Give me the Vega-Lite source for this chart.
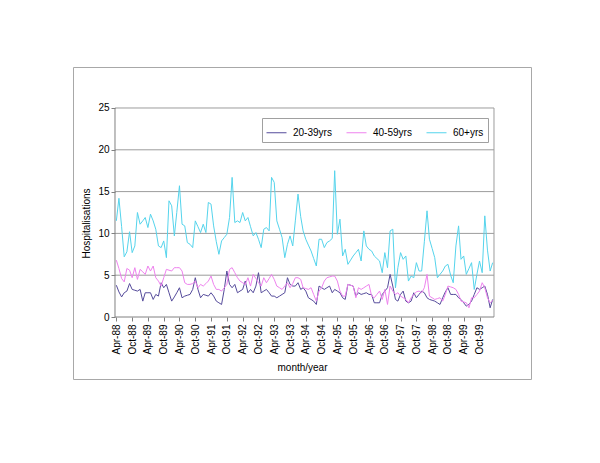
{
  "$schema": "https://vega.github.io/schema/vega-lite/v6.json",
  "autosize": {"type": "none"},
  "width": 458,
  "height": 312,
  "padding": {"left": 73, "top": 67, "right": 69, "bottom": 84},
  "background": "white",
  "config": {
    "view": {"stroke": "#a8a8a8", "strokeWidth": 1},
    "font": "Liberation Sans",
    "axis": {"labelFont": "Liberation Sans", "titleFont": "Liberation Sans", "labelColor": "#000", "titleColor": "#000", "titleFontWeight": "normal", "labelFontSize": 10, "titleFontSize": 10},
    "axisX": {"labelOverlap": false, "labelSeparation": 0},
    "legend": {"labelFont": "Liberation Sans", "labelFontSize": 10, "labelColor": "#000"}
  },
  "layer": [
    {
      "data": {"values": [{"g": 5}, {"g": 10}, {"g": 15}, {"g": 20}, {"g": 25}]},
      "mark": {"type": "rule", "color": "#9c9c9c", "strokeWidth": 1},
      "encoding": {
        "x": {"datum": {"year": 1988, "month": 3, "date": 16, "hours": 12}, "type": "temporal"},
        "x2": {"datum": {"year": 2000, "month": 3, "date": 16, "hours": 12}},
        "y": {"field": "g", "type": "quantitative"}
      }
    },
    {
      "data": {"values": [{}]},
      "mark": {"type": "rule", "color": "#9c9c9c", "strokeWidth": 1},
      "encoding": {
        "x": {"datum": {"year": 2000, "month": 3, "date": 16, "hours": 12}, "type": "temporal"},
        "y": {"datum": 0, "type": "quantitative"},
        "y2": {"datum": 25}
      }
    },
    {
      "data": {"values": [{}]},
      "mark": {"type": "rule", "color": "#808080", "strokeWidth": 1},
      "encoding": {
        "x": {"datum": {"year": 1988, "month": 3, "date": 16, "hours": 12}, "type": "temporal"},
        "y": {"datum": 0, "type": "quantitative"},
        "y2": {"datum": 25}
      }
    },
    {
      "data": {"values": [{}]},
      "mark": {"type": "rule", "color": "#808080", "strokeWidth": 1},
      "encoding": {
        "x": {"datum": {"year": 1988, "month": 3, "date": 16, "hours": 12}, "type": "temporal"},
        "x2": {"datum": {"year": 2000, "month": 3, "date": 16, "hours": 12}},
        "y": {"datum": 0, "type": "quantitative"}
      }
    },
    {
      "data": {
        "values": [
          {"month": "1988-04", "20-39yrs": 3.8, "40-59yrs": 6.8, "60+yrs": 11.5},
          {"month": "1988-05", "20-39yrs": 3.0, "40-59yrs": 5.8, "60+yrs": 14.2},
          {"month": "1988-06", "20-39yrs": 2.4, "40-59yrs": 4.6, "60+yrs": 10.8},
          {"month": "1988-07", "20-39yrs": 2.9, "40-59yrs": 4.2, "60+yrs": 7.2},
          {"month": "1988-08", "20-39yrs": 3.1, "40-59yrs": 5.8, "60+yrs": 7.8},
          {"month": "1988-09", "20-39yrs": 4.0, "40-59yrs": 5.6, "60+yrs": 10.2},
          {"month": "1988-10", "20-39yrs": 3.3, "40-59yrs": 4.7, "60+yrs": 7.7},
          {"month": "1988-11", "20-39yrs": 3.2, "40-59yrs": 5.9, "60+yrs": 8.5},
          {"month": "1988-12", "20-39yrs": 3.1, "40-59yrs": 4.5, "60+yrs": 12.5},
          {"month": "1989-01", "20-39yrs": 3.3, "40-59yrs": 5.7, "60+yrs": 11.1},
          {"month": "1989-02", "20-39yrs": 1.9, "40-59yrs": 5.4, "60+yrs": 11.5},
          {"month": "1989-03", "20-39yrs": 2.9, "40-59yrs": 5.1, "60+yrs": 11.9},
          {"month": "1989-04", "20-39yrs": 2.9, "40-59yrs": 6.1, "60+yrs": 10.7},
          {"month": "1989-05", "20-39yrs": 2.9, "40-59yrs": 5.5, "60+yrs": 12.3},
          {"month": "1989-06", "20-39yrs": 2.1, "40-59yrs": 6.1, "60+yrs": 11.5},
          {"month": "1989-07", "20-39yrs": 2.7, "40-59yrs": 4.7, "60+yrs": 10.5},
          {"month": "1989-08", "20-39yrs": 2.5, "40-59yrs": 4.3, "60+yrs": 8.5},
          {"month": "1989-09", "20-39yrs": 4.1, "40-59yrs": 3.7, "60+yrs": 8.3},
          {"month": "1989-10", "20-39yrs": 3.5, "40-59yrs": 4.7, "60+yrs": 9.1},
          {"month": "1989-11", "20-39yrs": 3.9, "40-59yrs": 5.7, "60+yrs": 7.1},
          {"month": "1989-12", "20-39yrs": 2.9, "40-59yrs": 5.6, "60+yrs": 13.9},
          {"month": "1990-01", "20-39yrs": 1.9, "40-59yrs": 5.5, "60+yrs": 13.3},
          {"month": "1990-02", "20-39yrs": 2.4, "40-59yrs": 5.9, "60+yrs": 9.7},
          {"month": "1990-03", "20-39yrs": 2.9, "40-59yrs": 5.9, "60+yrs": 12.5},
          {"month": "1990-04", "20-39yrs": 3.5, "40-59yrs": 5.9, "60+yrs": 15.7},
          {"month": "1990-05", "20-39yrs": 2.3, "40-59yrs": 5.5, "60+yrs": 11.1},
          {"month": "1990-06", "20-39yrs": 2.5, "40-59yrs": 4.1, "60+yrs": 10.9},
          {"month": "1990-07", "20-39yrs": 2.6, "40-59yrs": 3.9, "60+yrs": 8.9},
          {"month": "1990-08", "20-39yrs": 2.7, "40-59yrs": 3.9, "60+yrs": 8.7},
          {"month": "1990-09", "20-39yrs": 3.3, "40-59yrs": 4.0, "60+yrs": 8.3},
          {"month": "1990-10", "20-39yrs": 4.7, "40-59yrs": 4.3, "60+yrs": 11.5},
          {"month": "1990-11", "20-39yrs": 3.3, "40-59yrs": 3.5, "60+yrs": 10.8},
          {"month": "1990-12", "20-39yrs": 2.3, "40-59yrs": 3.9, "60+yrs": 10.1},
          {"month": "1991-01", "20-39yrs": 2.7, "40-59yrs": 3.7, "60+yrs": 11.1},
          {"month": "1991-02", "20-39yrs": 2.6, "40-59yrs": 4.0, "60+yrs": 10.1},
          {"month": "1991-03", "20-39yrs": 2.5, "40-59yrs": 4.3, "60+yrs": 13.7},
          {"month": "1991-04", "20-39yrs": 2.9, "40-59yrs": 4.9, "60+yrs": 13.5},
          {"month": "1991-05", "20-39yrs": 2.5, "40-59yrs": 3.9, "60+yrs": 10.9},
          {"month": "1991-06", "20-39yrs": 1.9, "40-59yrs": 3.3, "60+yrs": 9.0},
          {"month": "1991-07", "20-39yrs": 1.7, "40-59yrs": 3.3, "60+yrs": 7.5},
          {"month": "1991-08", "20-39yrs": 1.5, "40-59yrs": 3.1, "60+yrs": 9.1},
          {"month": "1991-09", "20-39yrs": 3.3, "40-59yrs": 3.5, "60+yrs": 9.5},
          {"month": "1991-10", "20-39yrs": 5.5, "40-59yrs": 3.9, "60+yrs": 9.9},
          {"month": "1991-11", "20-39yrs": 3.9, "40-59yrs": 5.7, "60+yrs": 11.9},
          {"month": "1991-12", "20-39yrs": 3.5, "40-59yrs": 5.9, "60+yrs": 16.7},
          {"month": "1992-01", "20-39yrs": 3.9, "40-59yrs": 5.3, "60+yrs": 11.3},
          {"month": "1992-02", "20-39yrs": 2.9, "40-59yrs": 4.7, "60+yrs": 11.5},
          {"month": "1992-03", "20-39yrs": 3.1, "40-59yrs": 4.3, "60+yrs": 11.3},
          {"month": "1992-04", "20-39yrs": 3.3, "40-59yrs": 4.1, "60+yrs": 12.5},
          {"month": "1992-05", "20-39yrs": 4.3, "40-59yrs": 3.9, "60+yrs": 11.5},
          {"month": "1992-06", "20-39yrs": 2.9, "40-59yrs": 4.7, "60+yrs": 11.9},
          {"month": "1992-07", "20-39yrs": 3.3, "40-59yrs": 3.7, "60+yrs": 10.8},
          {"month": "1992-08", "20-39yrs": 2.9, "40-59yrs": 5.1, "60+yrs": 9.7},
          {"month": "1992-09", "20-39yrs": 3.7, "40-59yrs": 4.6, "60+yrs": 10.1},
          {"month": "1992-10", "20-39yrs": 5.3, "40-59yrs": 4.1, "60+yrs": 9.3},
          {"month": "1992-11", "20-39yrs": 2.9, "40-59yrs": 3.7, "60+yrs": 8.3},
          {"month": "1992-12", "20-39yrs": 3.1, "40-59yrs": 4.7, "60+yrs": 10.5},
          {"month": "1993-01", "20-39yrs": 3.3, "40-59yrs": 4.1, "60+yrs": 10.7},
          {"month": "1993-02", "20-39yrs": 2.9, "40-59yrs": 4.6, "60+yrs": 10.3},
          {"month": "1993-03", "20-39yrs": 2.5, "40-59yrs": 5.1, "60+yrs": 16.7},
          {"month": "1993-04", "20-39yrs": 2.5, "40-59yrs": 4.5, "60+yrs": 16.1},
          {"month": "1993-05", "20-39yrs": 2.3, "40-59yrs": 3.7, "60+yrs": 11.5},
          {"month": "1993-06", "20-39yrs": 2.5, "40-59yrs": 3.5, "60+yrs": 10.5},
          {"month": "1993-07", "20-39yrs": 2.7, "40-59yrs": 3.3, "60+yrs": 9.5},
          {"month": "1993-08", "20-39yrs": 2.9, "40-59yrs": 3.7, "60+yrs": 7.1},
          {"month": "1993-09", "20-39yrs": 4.7, "40-59yrs": 4.1, "60+yrs": 8.7},
          {"month": "1993-10", "20-39yrs": 3.9, "40-59yrs": 3.5, "60+yrs": 9.7},
          {"month": "1993-11", "20-39yrs": 3.7, "40-59yrs": 4.0, "60+yrs": 8.5},
          {"month": "1993-12", "20-39yrs": 3.7, "40-59yrs": 4.7, "60+yrs": 11.5},
          {"month": "1994-01", "20-39yrs": 4.1, "40-59yrs": 4.7, "60+yrs": 14.7},
          {"month": "1994-02", "20-39yrs": 3.3, "40-59yrs": 4.5, "60+yrs": 12.0},
          {"month": "1994-03", "20-39yrs": 3.5, "40-59yrs": 3.5, "60+yrs": 10.3},
          {"month": "1994-04", "20-39yrs": 3.1, "40-59yrs": 3.4, "60+yrs": 9.3},
          {"month": "1994-05", "20-39yrs": 2.3, "40-59yrs": 3.3, "60+yrs": 8.6},
          {"month": "1994-06", "20-39yrs": 2.1, "40-59yrs": 3.5, "60+yrs": 7.9},
          {"month": "1994-07", "20-39yrs": 1.9, "40-59yrs": 2.7, "60+yrs": 7.0},
          {"month": "1994-08", "20-39yrs": 1.5, "40-59yrs": 1.9, "60+yrs": 6.1},
          {"month": "1994-09", "20-39yrs": 3.7, "40-59yrs": 3.1, "60+yrs": 9.3},
          {"month": "1994-10", "20-39yrs": 3.5, "40-59yrs": 3.5, "60+yrs": 9.3},
          {"month": "1994-11", "20-39yrs": 3.3, "40-59yrs": 4.3, "60+yrs": 8.3},
          {"month": "1994-12", "20-39yrs": 3.5, "40-59yrs": 4.7, "60+yrs": 8.9},
          {"month": "1995-01", "20-39yrs": 3.7, "40-59yrs": 4.8, "60+yrs": 9.1},
          {"month": "1995-02", "20-39yrs": 2.9, "40-59yrs": 4.9, "60+yrs": 9.4},
          {"month": "1995-03", "20-39yrs": 3.3, "40-59yrs": 4.9, "60+yrs": 17.5},
          {"month": "1995-04", "20-39yrs": 3.1, "40-59yrs": 4.3, "60+yrs": 9.9},
          {"month": "1995-05", "20-39yrs": 2.9, "40-59yrs": 3.1, "60+yrs": 11.7},
          {"month": "1995-06", "20-39yrs": 2.3, "40-59yrs": 2.5, "60+yrs": 7.3},
          {"month": "1995-07", "20-39yrs": 2.1, "40-59yrs": 2.5, "60+yrs": 8.1},
          {"month": "1995-08", "20-39yrs": 3.9, "40-59yrs": 3.9, "60+yrs": 6.3},
          {"month": "1995-09", "20-39yrs": 3.8, "40-59yrs": 3.8, "60+yrs": 6.8},
          {"month": "1995-10", "20-39yrs": 3.7, "40-59yrs": 3.7, "60+yrs": 7.3},
          {"month": "1995-11", "20-39yrs": 2.5, "40-59yrs": 2.3, "60+yrs": 7.7},
          {"month": "1995-12", "20-39yrs": 2.9, "40-59yrs": 3.5, "60+yrs": 8.1},
          {"month": "1996-01", "20-39yrs": 2.7, "40-59yrs": 3.3, "60+yrs": 6.7},
          {"month": "1996-02", "20-39yrs": 2.8, "40-59yrs": 3.5, "60+yrs": 10.3},
          {"month": "1996-03", "20-39yrs": 2.9, "40-59yrs": 3.7, "60+yrs": 8.5},
          {"month": "1996-04", "20-39yrs": 2.7, "40-59yrs": 3.9, "60+yrs": 8.1},
          {"month": "1996-05", "20-39yrs": 2.7, "40-59yrs": 2.5, "60+yrs": 7.9},
          {"month": "1996-06", "20-39yrs": 1.7, "40-59yrs": 2.3, "60+yrs": 7.3},
          {"month": "1996-07", "20-39yrs": 1.7, "40-59yrs": 2.7, "60+yrs": 7.0},
          {"month": "1996-08", "20-39yrs": 1.7, "40-59yrs": 3.1, "60+yrs": 6.7},
          {"month": "1996-09", "20-39yrs": 2.7, "40-59yrs": 2.1, "60+yrs": 5.3},
          {"month": "1996-10", "20-39yrs": 3.1, "40-59yrs": 3.3, "60+yrs": 7.7},
          {"month": "1996-11", "20-39yrs": 3.5, "40-59yrs": 1.5, "60+yrs": 5.9},
          {"month": "1996-12", "20-39yrs": 5.1, "40-59yrs": 3.7, "60+yrs": 10.3},
          {"month": "1997-01", "20-39yrs": 3.7, "40-59yrs": 3.1, "60+yrs": 10.5},
          {"month": "1997-02", "20-39yrs": 2.1, "40-59yrs": 2.7, "60+yrs": 3.5},
          {"month": "1997-03", "20-39yrs": 1.9, "40-59yrs": 2.9, "60+yrs": 5.9},
          {"month": "1997-04", "20-39yrs": 2.7, "40-59yrs": 2.5, "60+yrs": 7.7},
          {"month": "1997-05", "20-39yrs": 3.1, "40-59yrs": 2.3, "60+yrs": 6.9},
          {"month": "1997-06", "20-39yrs": 1.9, "40-59yrs": 2.1, "60+yrs": 7.3},
          {"month": "1997-07", "20-39yrs": 1.7, "40-59yrs": 1.7, "60+yrs": 4.3},
          {"month": "1997-08", "20-39yrs": 1.9, "40-59yrs": 2.3, "60+yrs": 4.9},
          {"month": "1997-09", "20-39yrs": 2.9, "40-59yrs": 2.7, "60+yrs": 4.7},
          {"month": "1997-10", "20-39yrs": 2.3, "40-59yrs": 3.0, "60+yrs": 6.5},
          {"month": "1997-11", "20-39yrs": 2.7, "40-59yrs": 3.1, "60+yrs": 5.5},
          {"month": "1997-12", "20-39yrs": 3.1, "40-59yrs": 2.9, "60+yrs": 5.5},
          {"month": "1998-01", "20-39yrs": 2.9, "40-59yrs": 3.5, "60+yrs": 9.0},
          {"month": "1998-02", "20-39yrs": 2.3, "40-59yrs": 5.1, "60+yrs": 12.7},
          {"month": "1998-03", "20-39yrs": 2.1, "40-59yrs": 2.5, "60+yrs": 9.3},
          {"month": "1998-04", "20-39yrs": 2.0, "40-59yrs": 2.3, "60+yrs": 8.2},
          {"month": "1998-05", "20-39yrs": 1.9, "40-59yrs": 2.1, "60+yrs": 7.1},
          {"month": "1998-06", "20-39yrs": 1.7, "40-59yrs": 2.2, "60+yrs": 4.7},
          {"month": "1998-07", "20-39yrs": 1.5, "40-59yrs": 2.3, "60+yrs": 5.1},
          {"month": "1998-08", "20-39yrs": 2.3, "40-59yrs": 1.9, "60+yrs": 5.5},
          {"month": "1998-09", "20-39yrs": 3.0, "40-59yrs": 2.7, "60+yrs": 6.1},
          {"month": "1998-10", "20-39yrs": 3.5, "40-59yrs": 3.7, "60+yrs": 6.3},
          {"month": "1998-11", "20-39yrs": 2.7, "40-59yrs": 3.6, "60+yrs": 5.0},
          {"month": "1998-12", "20-39yrs": 2.7, "40-59yrs": 3.5, "60+yrs": 4.1},
          {"month": "1999-01", "20-39yrs": 2.7, "40-59yrs": 3.3, "60+yrs": 8.5},
          {"month": "1999-02", "20-39yrs": 2.3, "40-59yrs": 2.7, "60+yrs": 10.9},
          {"month": "1999-03", "20-39yrs": 2.1, "40-59yrs": 1.9, "60+yrs": 6.9},
          {"month": "1999-04", "20-39yrs": 1.7, "40-59yrs": 1.8, "60+yrs": 7.3},
          {"month": "1999-05", "20-39yrs": 1.3, "40-59yrs": 1.7, "60+yrs": 5.1},
          {"month": "1999-06", "20-39yrs": 1.5, "40-59yrs": 1.1, "60+yrs": 5.8},
          {"month": "1999-07", "20-39yrs": 1.9, "40-59yrs": 2.3, "60+yrs": 6.5},
          {"month": "1999-08", "20-39yrs": 2.7, "40-59yrs": 2.3, "60+yrs": 3.3},
          {"month": "1999-09", "20-39yrs": 3.5, "40-59yrs": 2.7, "60+yrs": 5.1},
          {"month": "1999-10", "20-39yrs": 3.3, "40-59yrs": 3.1, "60+yrs": 6.7},
          {"month": "1999-11", "20-39yrs": 3.5, "40-59yrs": 4.1, "60+yrs": 5.3},
          {"month": "1999-12", "20-39yrs": 3.7, "40-59yrs": 3.5, "60+yrs": 12.1},
          {"month": "2000-01", "20-39yrs": 2.7, "40-59yrs": 2.3, "60+yrs": 8.0},
          {"month": "2000-02", "20-39yrs": 1.1, "40-59yrs": 1.7, "60+yrs": 5.5},
          {"month": "2000-03", "20-39yrs": 2.1, "40-59yrs": 2.0, "60+yrs": 6.5}
        ],
        "format": {"parse": {"month": "date:'%Y-%m'"}}
      },
      "transform": [
        {"fold": ["20-39yrs", "40-59yrs", "60+yrs"], "as": ["group", "value"]}
      ],
      "mark": {"type": "line", "strokeWidth": 1},
      "encoding": {
        "x": {
          "field": "month", "type": "temporal",
          "scale": {"domain": [{"year": 1986, "month": 11, "date": 16, "hours": 20}, {"year": 2001, "month": 5, "date": 18, "hours": 10}], "nice": false},
          "axis": {
            "orient": "bottom", "offset": -62, "domain": false, "grid": false,
            "format": "%b-%y", "labelAngle": -90, "labelPadding": 3,
            "tickSize": 4, "tickColor": "#808080", "labelFontSize": 10,
            "title": "month/year", "titlePadding": 8, "labelOverlap": false, "tickCount": 40,
            "values": [
              {"year": 1988, "month": 4, "date": 1}, {"year": 1988, "month": 10, "date": 1},
              {"year": 1989, "month": 4, "date": 1}, {"year": 1989, "month": 10, "date": 1},
              {"year": 1990, "month": 4, "date": 1}, {"year": 1990, "month": 10, "date": 1},
              {"year": 1991, "month": 4, "date": 1}, {"year": 1991, "month": 10, "date": 1},
              {"year": 1992, "month": 4, "date": 1}, {"year": 1992, "month": 10, "date": 1},
              {"year": 1993, "month": 4, "date": 1}, {"year": 1993, "month": 10, "date": 1},
              {"year": 1994, "month": 4, "date": 1}, {"year": 1994, "month": 10, "date": 1},
              {"year": 1995, "month": 4, "date": 1}, {"year": 1995, "month": 10, "date": 1},
              {"year": 1996, "month": 4, "date": 1}, {"year": 1996, "month": 10, "date": 1},
              {"year": 1997, "month": 4, "date": 1}, {"year": 1997, "month": 10, "date": 1},
              {"year": 1998, "month": 4, "date": 1}, {"year": 1998, "month": 10, "date": 1},
              {"year": 1999, "month": 4, "date": 1}, {"year": 1999, "month": 10, "date": 1}
            ]
          }
        },
        "y": {
          "field": "value", "type": "quantitative",
          "scale": {"domain": [-7.416, 29.904], "nice": false, "zero": false},
          "axis": {
            "orient": "left", "offset": -42, "domain": false, "grid": false,
            "values": [0, 5, 10, 15, 20, 25], "tickSize": 4, "tickColor": "#808080",
            "labelPadding": 2, "title": "Hospitalisations", "titlePadding": 6
          }
        },
        "color": {
          "field": "group", "type": "nominal",
          "scale": {"domain": ["20-39yrs", "40-59yrs", "60+yrs"], "range": ["#554b9b", "#ee82ee", "#55d4ec"]},
          "legend": {
            "title": null, "orient": "none", "legendX": 189, "legendY": 51,
            "direction": "horizontal", "symbolType": "stroke", "symbolSize": 400,
            "symbolStrokeWidth": 1, "labelOffset": 6, "columnPadding": 12,
            "padding": 4, "strokeColor": "#a0a0a0", "fillColor": "#ffffff"
          }
        }
      }
    }
  ]
}
